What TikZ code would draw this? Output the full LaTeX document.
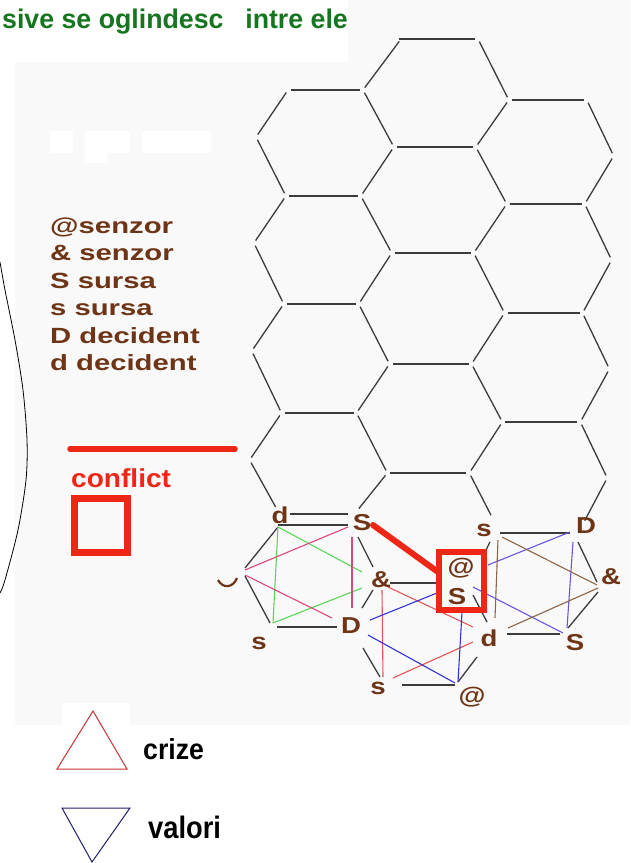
\documentclass[tikz,border=0pt]{standalone}
\usepackage{fontspec}
\setmainfont{Liberation Sans}
\usepackage{graphicx}
\definecolor{bgg}{RGB}{249,249,249}
\definecolor{ttlgreen}{RGB}{22,118,32}
\definecolor{lbrown}{RGB}{110,52,22}
\definecolor{cred}{RGB}{238,38,22}
\definecolor{hexline}{RGB}{60,60,60}
\definecolor{tgreen}{RGB}{90,215,90}
\definecolor{tpink}{RGB}{220,70,125}
\definecolor{tred}{RGB}{225,85,85}
\definecolor{tblue}{RGB}{50,50,220}
\definecolor{tpurple}{RGB}{105,85,225}
\definecolor{tbrown}{RGB}{140,100,70}
\definecolor{lgred}{RGB}{200,50,50}
\definecolor{lgblue}{RGB}{30,30,110}
\newcommand\lwide[1]{\scalebox{1.33}[1]{#1}}
\newcommand\cwide[1]{\scalebox{1.2}[1]{#1}}
\begin{document}
\begin{tikzpicture}[x=1pt,y=-1pt,
  hexedge/.style={draw=hexline,line width=1.3pt,shorten <=3pt,shorten >=3pt},
  cedge/.style={draw=hexline,line width=1.3pt},
  tline/.style={line width=1.1pt},
  lbl/.style={text=lbrown,font=\fontsize{23pt}{23pt}\selectfont\bfseries,inner sep=0pt,anchor=center},
  leg/.style={text=lbrown,font=\fontsize{22pt}{22pt}\selectfont\bfseries,inner sep=0pt,anchor=base west}]
\useasboundingbox (0,0) rectangle (630,863);
% background
\fill[white] (0,0) rectangle (630,863);
\fill[bgg] (15,0) rectangle (630,725);
\fill[white] (0,0) rectangle (348,62);
\fill[white] (50,131) rectangle (73,153);
\fill[white] (85,131) rectangle (130,153);
\fill[white] (85,153) rectangle (107,163);
\fill[white] (142,131) rectangle (211,153);
\fill[white] (62,703) rectangle (130,725);
% title
\node[anchor=base west,inner sep=0pt,text=ttlgreen,font=\fontsize{27pt}{27pt}\selectfont\bfseries] (title) at (2,28.5) {\scalebox{0.99}[1]{sive se oglindesc\hspace{22pt}intre ele}};
% left arc
\draw[black,line width=0.8pt] plot[smooth] coordinates {(0,262) (5,290) (15,340) (23,390) (27,440) (26,480) (18,530) (5,580) (0,593)};
% honeycomb lattice (slightly sheared)
\begin{scope}[cm={1,0,0.02,1,(1.8,0)}]
  \foreach \t/\n/\r in {90/196/147,196/304/253,304/413/364} {
    \draw[hexedge] (288,\t) -- (363,\t);
    \draw[hexedge] (288,\t) -- (257,\t+47);
    \draw[hexedge] (257,\t+47) -- (288,\n);
    \draw[hexedge] (363,\t) -- (395,\r);
    \draw[hexedge] (395,\r) -- (363,\n);
  }
  \draw[hexedge] (288,413) -- (363,413);
  \draw[hexedge] (288,413) -- (257,460);
  \draw[hexedge,shorten >=8pt] (257,460) -- (288,514);
  \draw[hexedge] (363,413) -- (395,473);
  \draw[hexedge,shorten >=7pt] (395,473) -- (363,514);
  \foreach \t/\r/\n in {39/100/147,147/204/253,253/313/364,364/422/473} {
    \draw[hexedge] (395,\t) -- (477,\t);
    \draw[hexedge] (477,\t) -- (509,\r);
    \draw[hexedge] (509,\r) -- (477,\n);
  }
  \draw[hexedge] (400,39) -- (363,90);
  \draw[hexedge] (395,473) -- (477,473);
  \draw[hexedge,shorten >=20pt] (477,473) -- (509,533);
  \foreach \t/\n in {100/204,204/313,313/422} {
    \draw[hexedge] (509,\t) -- (587,\t);
    \draw[hexedge] (587,\t) -- (615,\t+56);
    \draw[hexedge] (615,\t+56) -- (587,\n);
  }
  \draw[hexedge] (509,422) -- (587,422);
  \draw[hexedge] (587,422) -- (615,478);
  \draw[hexedge,shorten >=14pt] (615,478) -- (587,533);
\end{scope}
% cluster: black hexagon edges
\draw[cedge] (290,514) -- (348,514);
\draw[cedge] (278,525) -- (348,525);
\draw[cedge] (278,527) -- (245,568);
\draw[cedge] (245,576) -- (270,623);
\draw[cedge] (277,627) -- (337,627);
\draw[cedge] (358,537) -- (373,567);
\draw[cedge] (373,590) -- (362,608);
\draw[cedge] (390,583) -- (437,583);
\draw[cedge] (363,648) -- (380,677);
\draw[cedge] (402,685) -- (455,685);
\draw[cedge] (458,682) -- (477,657);
\draw[cedge] (473,595) -- (487,622);
\draw[cedge] (500,533) -- (570,533);
\draw[cedge] (578,542) -- (597,582);
\draw[cedge] (598,592) -- (568,628);
\draw[cedge] (507,634) -- (560,634);
\draw[cedge] (490,542) -- (485,552);
% cluster: coloured triangles
\draw[tline,tgreen] (278,527) -- (273,623);
\draw[tline,tgreen] (278,527) -- (362,572);
\draw[tline,tgreen] (273,623) -- (362,588);
\draw[tline,tpink] (348,527) -- (245,570);
\draw[tline,tpink] (245,575) -- (332,618);
\draw[tline,tpink] (352,537) -- (352,608);
\draw[tline,tred] (388,587) -- (473,627);
\draw[tline,tred] (393,678) -- (473,642);
\draw[tline,tred] (382,590) -- (383,677);
\draw[tline,tblue] (370,620) -- (437,593);
\draw[tline,tblue] (368,635) -- (455,683);
\draw[tline,tblue] (462,612) -- (458,682);
\draw[tline,tpurple] (570,532) -- (488,565);
\draw[tline,tpurple] (573,542) -- (567,628);
\draw[tline,tpurple] (473,587) -- (563,633);
\draw[tline,tbrown] (502,537) -- (597,585);
\draw[tline,tbrown] (508,628) -- (598,588);
\draw[tline,tbrown] (498,540) -- (495,618);
% conflict line and box
\draw[cred,line width=6pt,line cap=round] (373,525) -- (438,572);
\draw[cred,line width=6pt] (439,552) rectangle (484,610);
% cluster labels
\node[lbl] (cd1) at (280,515) {\cwide{d}};
\node[lbl] (cS1) at (362,523) {\cwide{S}};
\node[lbl] (camp1) at (381,580) {\cwide{\&}};
\node[lbl] (cD1) at (351,626) {\cwide{D}};
\node[lbl] (cs1) at (259,643) {\cwide{s}};
\node[lbl] (cs2) at (378,688) {\cwide{s}};
\node[lbl] (cat1) at (461,568) {\cwide{@}};
\node[lbl] (cS2) at (457,597) {\cwide{S}};
\node[lbl] (cd2) at (489,638) {\cwide{d}};
\node[lbl] (cat2) at (472,697) {\cwide{@}};
\node[lbl] (cs3) at (484,530) {\cwide{s}};
\node[lbl] (cD3) at (586,526) {\cwide{D}};
\node[lbl] (camp3) at (611,577) {\cwide{\&}};
\node[lbl] (cS3) at (575,643) {\cwide{S}};
\draw[lbrown,line width=2.2pt] (218,580) .. controls (223,589) and (233,588) .. (237,578);
% legend
\node[leg] (l1) at (50,233) {\lwide{@senzor}};
\node[leg] (l2) at (50,260.5) {\lwide{\& senzor}};
\node[leg] (l3) at (50,288) {\lwide{S sursa}};
\node[leg] (l4) at (50,315.5) {\lwide{s sursa}};
\node[leg] (l5) at (50,343) {\lwide{D decident}};
\node[leg] (l6) at (50,370.5) {\lwide{d decident}};
\draw[cred,line width=5.5pt,line cap=round] (70,449) -- (235,449);
\node[anchor=base west,inner sep=0pt,text=cred,font=\fontsize{26pt}{26pt}\selectfont\bfseries] (conf) at (71,487) {\scalebox{1.08}[1]{conflict}};
\draw[cred,line width=6.5pt] (74.5,498.5) rectangle (127.5,552.5);
% triangle legend
\draw[lgred,line width=1pt] (93,711) -- (127,769) -- (57,769) -- cycle;
\node[anchor=base west,inner sep=0pt,font=\fontsize{29pt}{29pt}\selectfont\bfseries] (crize) at (143,759) {\scalebox{0.92}[1]{crize}};
\draw[lgblue,line width=1pt] (62,808) -- (130,808) -- (92,862) -- cycle;
\node[anchor=base west,inner sep=0pt,font=\fontsize{31pt}{31pt}\selectfont\bfseries] (valori) at (148,838) {\scalebox{0.88}[1]{valori}};
\end{tikzpicture}
\end{document}
